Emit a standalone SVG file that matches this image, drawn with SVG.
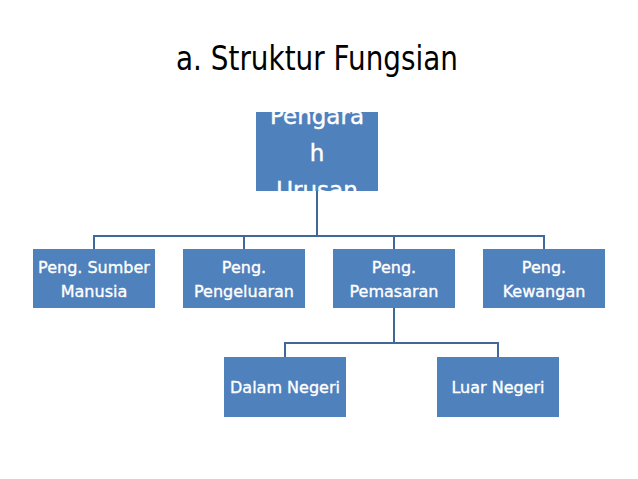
<svg xmlns="http://www.w3.org/2000/svg" width="638" height="479" viewBox="0 0 638 479">
<style>
.box{fill:#4f81bd;}
.t{fill:#ffffff;stroke:#ffffff;stroke-width:0.35;font-family:"DejaVu Sans",sans-serif;font-size:16px;text-anchor:middle;}
.tt{fill:#ffffff;stroke:#ffffff;stroke-width:0.4;font-family:"DejaVu Sans",sans-serif;font-size:23px;text-anchor:middle;}
.ln{fill:none;stroke:#41689a;stroke-width:2;}
</style>
<defs><clipPath id="topclip"><rect x="256" y="112" width="122" height="79"/></clipPath></defs>
<rect width="638" height="479" fill="#ffffff"/>
<text x="176" y="70" font-family="'DejaVu Sans',sans-serif" font-size="33" fill="#000000" textLength="282" lengthAdjust="spacingAndGlyphs">a. Struktur Fungsian</text>
<g id="connectors">
<path class="ln" d="M317 191V236M94 236H544M94 235V249M244 235V249M394 235V249M544 235V249"/>
<path class="ln" d="M394 308V343M285 343H498M285 342V357M498 342V357"/>
</g>
<g id="n-top">
<rect class="box" x="256" y="112" width="122" height="79"/>
<g clip-path="url(#topclip)">
<text class="tt" x="317" y="124">Pengara</text>
<text class="tt" x="317" y="161">h</text>
<text class="tt" x="317" y="198">Urusan</text>
</g>
</g>
<g id="n-sumber">
<rect class="box" x="33" y="249" width="122" height="59"/>
<text class="t" x="94" y="273">Peng. Sumber</text>
<text class="t" x="94" y="297">Manusia</text>
</g>
<g id="n-pengeluaran">
<rect class="box" x="183" y="249" width="122" height="59"/>
<text class="t" x="244" y="273">Peng.</text>
<text class="t" x="244" y="297">Pengeluaran</text>
</g>
<g id="n-pemasaran">
<rect class="box" x="333" y="249" width="122" height="59"/>
<text class="t" x="394" y="273">Peng.</text>
<text class="t" x="394" y="297">Pemasaran</text>
</g>
<g id="n-kewangan">
<rect class="box" x="483" y="249" width="122" height="59"/>
<text class="t" x="544" y="273">Peng.</text>
<text class="t" x="544" y="297">Kewangan</text>
</g>
<g id="n-dalam">
<rect class="box" x="224" y="357" width="122" height="60"/>
<text class="t" x="285" y="393">Dalam Negeri</text>
</g>
<g id="n-luar">
<rect class="box" x="437" y="357" width="122" height="60"/>
<text class="t" x="498" y="393">Luar Negeri</text>
</g>
</svg>
